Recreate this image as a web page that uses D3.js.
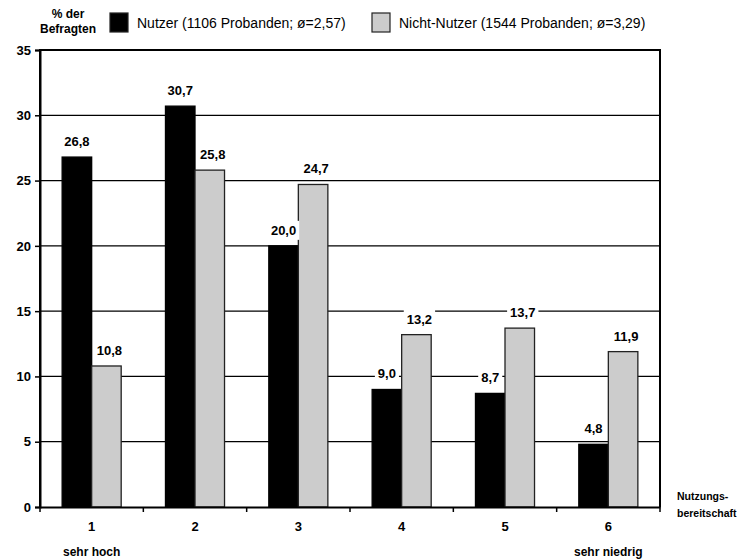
<!DOCTYPE html>
<html><head><meta charset="utf-8">
<script src="https://cdn.jsdelivr.net/npm/d3@7"></script>
<style>body{margin:0;background:#fff}svg{display:block;font-family:"Liberation Sans",Arial,sans-serif}</style>
</head><body><svg id="c" width="741" height="560"></svg>
<script>
const categories = ["1","2","3","4","5","6"];
const nutzer = [26.8, 30.7, 20.0, 9.0, 8.7, 4.8];
const nichtNutzer = [10.8, 25.8, 24.7, 13.2, 13.7, 11.9];
const nutzerLabels = ["26,8","30,7","20,0","9,0","8,7","4,8"];
const nichtNutzerLabels = ["10,8","25,8","24,7","13,2","13,7","11,9"];
const yTicks = [0,5,10,15,20,25,30,35];
const seriesNames = ["Nutzer (1106 Probanden; ø=2,57)", "Nicht-Nutzer (1544 Probanden; ø=3,29)"];
const subLabels = {"1":"sehr hoch","6":"sehr niedrig"};

const svg = d3.select("#c");
const L = 40, R = 660, T = 50, B = 507;
const x = d3.scaleBand().domain(categories).range([L, R]).paddingInner(0).paddingOuter(0);
const y = d3.scaleLinear().domain([0, 35]).range([B, T]);
const bw = x.bandwidth() * 2 / 7; // gap width 150%

// gridlines
svg.append("g").selectAll("line").data(yTicks.filter(t => t > 0 && t < 35)).join("line")
  .attr("x1", L).attr("x2", R).attr("y1", d => y(d)).attr("y2", d => y(d))
  .attr("stroke", "#000").attr("stroke-width", 1.2);

// bars
const series = [
  {vals: nutzer, labs: nutzerLabels, fill: "#000", stroke: "#000", off: -1, dx: 0},
  {vals: nichtNutzer, labs: nichtNutzerLabels, fill: "#cccccc", stroke: "#222", off: 0, dx: 3}
];
series.forEach(s => {
  svg.append("g").selectAll("rect").data(categories).join("rect")
    .attr("x", (c) => x(c) + x.bandwidth()/2 + s.off*bw)
    .attr("width", bw)
    .attr("y", (c,i) => y(s.vals[i]))
    .attr("height", (c,i) => B - y(s.vals[i]))
    .attr("fill", s.fill).attr("stroke", s.stroke).attr("stroke-width", 1.3);
});

// frame
svg.append("path").attr("d", `M${L},${B} L${L},${T} L${R},${T} L${R},${B}`)
  .attr("fill", "none").attr("stroke", "#000").attr("stroke-width", 2);

// y axis
const yAxis = svg.append("g").attr("transform", `translate(${L},0)`)
  .call(d3.axisLeft(y).tickValues(yTicks).tickSize(5).tickPadding(4).tickFormat(d3.format("d")));
yAxis.select(".domain").attr("stroke", "#000").attr("stroke-width", 2);
yAxis.selectAll(".tick line").attr("stroke-width", 1.5);
yAxis.selectAll("text").attr("font-size", 13).attr("font-weight", "bold").attr("font-family", "Liberation Sans, Arial, sans-serif").attr("fill", "#000");

// x axis
const xAxis = svg.append("g").attr("transform", `translate(0,${B})`)
  .call(d3.axisBottom(x).tickSize(0).tickPadding(15));
xAxis.select(".domain").attr("stroke", "#000").attr("stroke-width", 2);
xAxis.selectAll("text").attr("font-size", 13).attr("font-weight", "bold").attr("font-family", "Liberation Sans, Arial, sans-serif").attr("fill", "#000");
// category boundary ticks
const bounds = categories.map(c => x(c)).concat([R]);
svg.append("g").selectAll("line").data(bounds).join("line")
  .attr("x1", d => d).attr("x2", d => d).attr("y1", B).attr("y2", B + 5)
  .attr("stroke", "#000").attr("stroke-width", 1.5);

// value labels with white background
series.forEach(s => {
  const g = svg.append("g");
  categories.forEach((c, i) => {
    const cx = x(c) + x.bandwidth()/2 + s.off*bw + bw/2 + s.dx;
    const by = y(s.vals[i]) - 11;
    const t = g.append("text").attr("x", cx).attr("y", by).attr("text-anchor", "middle")
      .attr("font-size", 13).attr("font-weight", "bold").attr("fill", "#000").text(s.labs[i]);
    const bb = t.node().getBBox();
    g.insert("rect", "text").attr("x", bb.x - 3).attr("y", bb.y - 2).attr("width", bb.width + 6).attr("height", bb.height + 4).attr("fill", "#fff");
  });
});

// sub labels
svg.append("g").selectAll("text").data(Object.keys(subLabels)).join("text")
  .attr("x", d => x(d) + x.bandwidth()/2).attr("y", 556).attr("text-anchor", "middle")
  .attr("font-size", 12).attr("font-weight", "bold").text(d => subLabels[d]);

// axis titles
svg.append("text").attr("x", 677).attr("y", 500).attr("font-size", 10.5).attr("font-weight", "bold").text("Nutzungs-");
svg.append("text").attr("x", 677).attr("y", 517).attr("font-size", 10.5).attr("font-weight", "bold").text("bereitschaft");
svg.append("text").attr("x", 68).attr("y", 18).attr("text-anchor", "middle").attr("font-size", 12).attr("font-weight", "bold").text("% der");
svg.append("text").attr("x", 68).attr("y", 33).attr("text-anchor", "middle").attr("font-size", 12).attr("font-weight", "bold").text("Befragten");

// legend
const legX = [110, 372];
const legFill = ["#000", "#cccccc"];
seriesNames.forEach((n, i) => {
  svg.append("rect").attr("x", legX[i]).attr("y", 13).attr("width", 18).attr("height", 19)
    .attr("fill", legFill[i]).attr("stroke", "#222").attr("stroke-width", 1.2);
  svg.append("text").attr("x", legX[i] + 27).attr("y", 28).attr("font-size", 14).text(n);
});
</script></body></html>
